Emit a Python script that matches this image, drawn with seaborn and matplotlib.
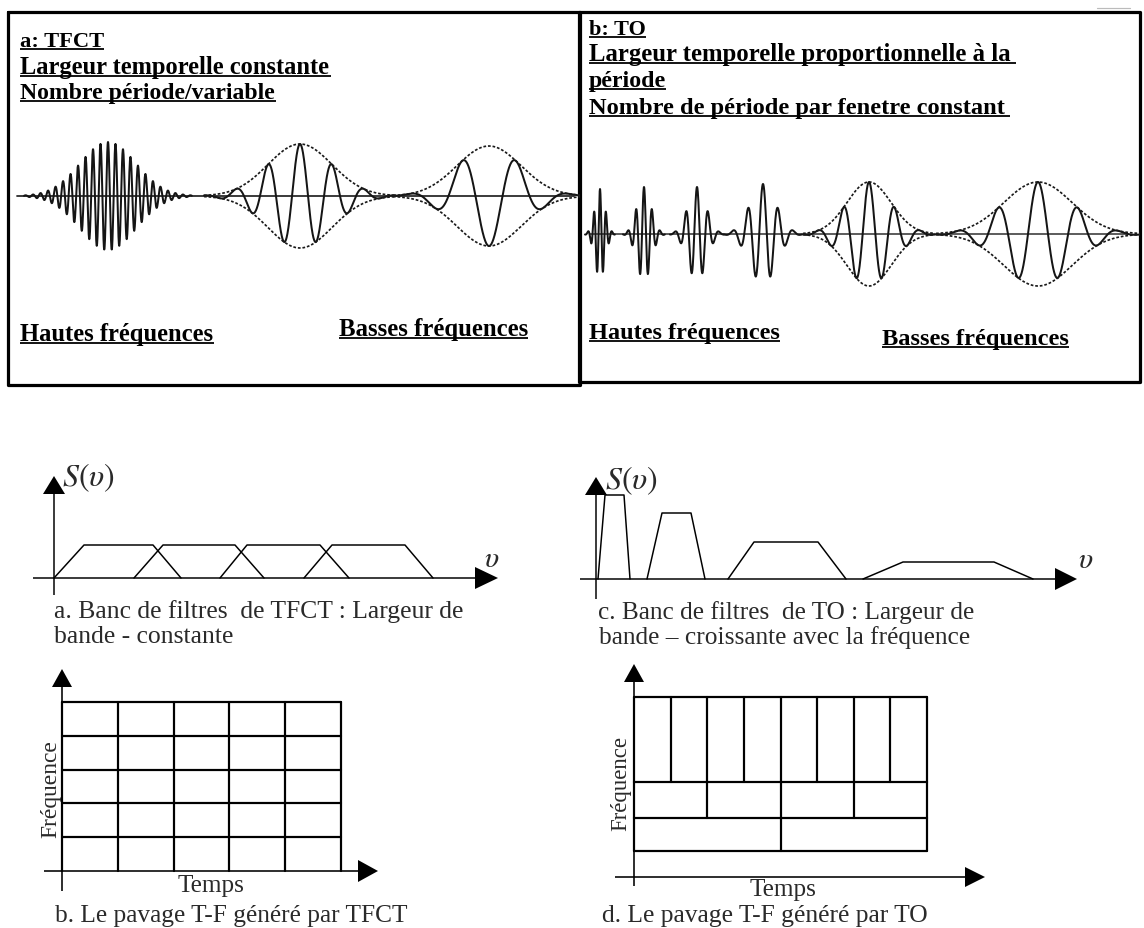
import numpy as np
import matplotlib
matplotlib.use("Agg")
import matplotlib.pyplot as plt
import seaborn as sns

# ---------------- data ----------------
# (a) TFCT atoms : constant temporal width
tfct_centre = [100, 292, 481]
tfct_sigma = [28, 32, 32]
tfct_period = [7.5, 32, 54]
tfct_amp = [54, 52, 50]
tfct_phase = [0.0, 0.0, np.pi]
tfct_env = [False, True, True]

# (b) TO atoms : temporal width proportional to the period
to_centre = [21, 65, 118, 184, 290, 459]
to_sigma = [5, 7, 9, 13, 22, 34]
to_period = [6, 8, 11, 15, 25.5, 40]
to_amp = [45, 47, 47, 50, 52, 52]
to_phase = [0, 0, 0, 0, 0, 0]
to_env = [False, False, False, False, True, True]

# filter banks : breakpoints along nu and heights
tfct_filter_x = [[0, 30, 99, 127], [80, 109, 181, 210],
                 [166, 193, 266, 295], [250, 278, 351, 379]]
tfct_filter_h = [33, 33, 33, 33]
to_filter_x = [[2, 9, 28, 34], [51, 66, 95, 109],
               [132, 158, 222, 250], [267, 307, 398, 437]]
to_filter_h = [84, 66, 37, 17]

# time-frequency tilings
tfct_time_edges = [0, 1, 2, 3, 4, 5]
tfct_freq_edges = [0, 1, 2, 3, 4, 5]
to_band_edges = [0.77, 1.74, 2.80, 5.30]
to_band_tiles = [2, 4, 8]
to_time_span = 8

# texts
box_a_titles = ["a: TFCT", "Largeur temporelle constante", "Nombre période/variable"]
box_b_titles = ["b: TO", "Largeur temporelle proportionnelle à la", "période",
                "Nombre de période par fenetre constant"]
hf_label = "Hautes fréquences"
bf_label = "Basses fréquences"
cap_a = ["a. Banc de filtres  de TFCT : Largeur de", "bande - constante"]
cap_c = ["c. Banc de filtres  de TO : Largeur de", "bande \u2013 croissante avec la fréquence"]
cap_b = "b. Le pavage T-F généré par TFCT"
cap_d = "d. Le pavage T-F généré par TO"
s_label = r"$S(\upsilon)$"
nu_label = r"$\upsilon$"
time_label = "Temps"
freq_label = "Fréquence"

# ---------------- figure ----------------
sns.set_theme(style="white")
plt.rcParams["font.family"] = ["Liberation Serif", "DejaVu Serif"]
plt.rcParams["mathtext.fontset"] = "stix"

W, H = 1144, 929
fig = plt.figure(figsize=(W / 100, H / 100), dpi=100)
fig.patch.set_facecolor("white")
renderer = fig.canvas.get_renderer()
PT = 72 / 100  # points per pixel

bg = fig.add_axes([0, 0, 1, 1])
bg.set_xlim(0, W)
bg.set_ylim(H, 0)
bg.axis("off")


def fit_text(x, y, s, width=None, height=None, size0=16, **kw):
    t = bg.text(x, y, s, fontsize=size0, **kw)
    bb = t.get_window_extent(renderer=renderer)
    if width is not None:
        t.set_fontsize(size0 * width / bb.width)
    elif height is not None:
        t.set_fontsize(size0 * height / bb.height)
    return t


def underlined(x, base, s, x_end, ul_end=None):
    fit_text(x, base, s, width=x_end - x, ha="left", va="baseline",
             fontweight="bold", color="black")
    bg.plot([x, ul_end if ul_end else x_end], [base + 3, base + 3], color="black",
            lw=1.8 * PT, solid_capstyle="butt")


def panel(ox, oy, left, right, down, up, sx=1.0, sy=1.0):
    ax = fig.add_axes([(ox - left) / W, 1 - (oy + down) / H, (left + right) / W, (up + down) / H])
    ax.set_xlim(-left / sx, right / sx)
    ax.set_ylim(-down / sy, up / sy)
    ax.axis("off")
    return ax


def axis_arrows(ax, sx, sy, x_from, x_tip, xlen, xhh, y_from, y_tip, ylen, yhw, lw):
    ax.plot([x_from / sx, (x_tip - xlen + 1) / sx], [0, 0], color="black", lw=lw, solid_capstyle="butt")
    ax.fill(np.array([x_tip - xlen, x_tip - xlen, x_tip]) / sx, np.array([-xhh, xhh, 0]) / sy,
            color="black", lw=0)
    ax.plot([0, 0], [y_from / sy, (y_tip - ylen + 1) / sy], color="black", lw=lw, solid_capstyle="butt")
    ax.fill(np.array([-yhw, yhw, 0]) / sx, np.array([y_tip - ylen, y_tip - ylen, y_tip]) / sy,
            color="black", lw=0)


def draw_packets(ax, centres, sigmas, periods, amps, phases, envs, lw):
    for c, s, T, A, ph, e in zip(centres, sigmas, periods, amps, phases, envs):
        x = np.arange(c - 3 * s, c + 3 * s, min(0.2, T / 40))
        env = A * np.exp(-(x - c) ** 2 / (2 * s * s))
        y = env * np.cos(2 * np.pi * (x - c) / T + ph)
        sns.lineplot(x=x, y=y, ax=ax, color="#151515", lw=lw, sort=False, estimator=None)
        if e:
            for sgn in (1, -1):
                sns.lineplot(x=x, y=sgn * env, ax=ax, color="#1a1a1a", lw=1.7 * PT,
                             sort=False, estimator=None, linestyle=(0, (1.6, 1.1)))


# ---------------- top boxes ----------------
box_lw = 3.2 * PT
bg.plot([8, 580, 580, 8, 8], [13, 13, 386, 386, 13], color="black", lw=box_lw)
bg.plot([579, 1140, 1140, 579, 579], [13, 13, 383, 383, 13], color="black", lw=box_lw)
bg.plot([1097, 1130], [9, 9], color="#bbbbbb", lw=1.2 * PT)

underlined(20, 47, box_a_titles[0], 104)
underlined(20, 74, box_a_titles[1], 331)
underlined(20, 99, box_a_titles[2], 276)
underlined(20, 341, hf_label, 214)
underlined(339, 336, bf_label, 528)

underlined(589, 35, box_b_titles[0], 646)
underlined(589, 61, box_b_titles[1], 1010, 1016)
underlined(589, 87, box_b_titles[2], 666)
underlined(589, 114, box_b_titles[3], 1005, 1010)
underlined(589, 339, hf_label, 780)
underlined(882, 345, bf_label, 1069)

# waves, box a
wa = panel(8, 197, 0, 572, 80, 80)
wa.plot([9, 566], [0, 0], color="#2a2a2a", lw=1.8 * PT)
draw_packets(wa, tfct_centre, tfct_sigma, tfct_period, tfct_amp, tfct_phase, tfct_env, 2.0 * PT)

# waves, box b
wb = panel(579, 235, 0, 561, 80, 80)
wb.plot([11, 549], [0, 0], color="#2a2a2a", lw=1.5 * PT)
draw_packets(wb, to_centre, to_sigma, to_period, to_amp, to_phase, to_env, 2.0 * PT)

# ---------------- filter banks ----------------
fa = panel(54, 579, 30, 460, 30, 110)
axis_arrows(fa, 1, 1, -21, 444, 23, 11, -17, 102, 18, 11, 1.5 * PT)
for xs, h in zip(tfct_filter_x, tfct_filter_h):
    sns.lineplot(x=xs, y=[0, h, h, 0], ax=fa, color="black", lw=1.5 * PT, sort=False, estimator=None)

fb = panel(596, 580, 30, 500, 30, 110)
axis_arrows(fb, 1, 1, -16, 481, 22, 11, -20, 102, 18, 11, 1.5 * PT)
for xs, h in zip(to_filter_x, to_filter_h):
    sns.lineplot(x=xs, y=[0, h, h, 0], ax=fb, color="black", lw=1.5 * PT, sort=False, estimator=None)

txt_col = "#2a2a2a"
fit_text(62, 478, s_label, width=54, ha="left", va="center", color=txt_col)
fit_text(484, 560, nu_label, width=16, ha="left", va="center", color=txt_col)
fit_text(605, 481, s_label, width=54, ha="left", va="center", color=txt_col)
fit_text(1078, 561, nu_label, width=16, ha="left", va="center", color=txt_col)

fit_text(54, 618, cap_a[0], width=410, ha="left", va="baseline", color=txt_col)
fit_text(54, 643, cap_a[1], width=179, ha="left", va="baseline", color=txt_col)
fit_text(598, 619, cap_c[0], width=377, ha="left", va="baseline", color=txt_col)
fit_text(599, 644, cap_c[1], width=371, ha="left", va="baseline", color=txt_col)

# ---------------- tilings ----------------
grid_lw = 2.2 * PT
cw_a, ch_a = 279 / 5, 169 / 5
ga = panel(62, 872, 30, 330, 30, 215, sx=cw_a, sy=ch_a)
axis_arrows(ga, cw_a, ch_a, -18, 316, 20, 11, -20, 202, 18, 10, 1.6 * PT)
for t in tfct_time_edges:
    sns.lineplot(x=[t, t], y=[tfct_freq_edges[0], tfct_freq_edges[-1]], ax=ga, color="black",
                 lw=grid_lw, sort=False, estimator=None)
for f in tfct_freq_edges[1:]:
    sns.lineplot(x=[tfct_time_edges[0], tfct_time_edges[-1]], y=[f, f], ax=ga, color="black",
                 lw=grid_lw, sort=False, estimator=None)

cw_b, ch_b = 293 / 8, 34.0
gb = panel(634, 878, 30, 365, 30, 225, sx=cw_b, sy=ch_b)
axis_arrows(gb, cw_b, ch_b, -19, 351, 20, 10, -9, 213, 18, 10, 1.6 * PT)
for lo, hi, n in zip(to_band_edges[:-1], to_band_edges[1:], to_band_tiles):
    for k in range(n + 1):
        tx = k * to_time_span / n
        sns.lineplot(x=[tx, tx], y=[lo, hi], ax=gb, color="black", lw=grid_lw,
                     sort=False, estimator=None)
for f in to_band_edges:
    sns.lineplot(x=[0, to_time_span], y=[f, f], ax=gb, color="black", lw=grid_lw,
                 sort=False, estimator=None)

fit_text(51, 789, freq_label, height=98, rotation=90, ha="center", va="center", color=txt_col)
fit_text(621, 784, freq_label, height=95, rotation=90, ha="center", va="center", color=txt_col)
fit_text(178, 892, time_label, width=67, ha="left", va="baseline", color=txt_col)
fit_text(750, 896, time_label, width=67, ha="left", va="baseline", color=txt_col)
fit_text(55, 922, cap_b, width=354, ha="left", va="baseline", color=txt_col)
fit_text(602, 922, cap_d, width=326, ha="left", va="baseline", color=txt_col)

fig.savefig("out.png", dpi=100, facecolor="white")
